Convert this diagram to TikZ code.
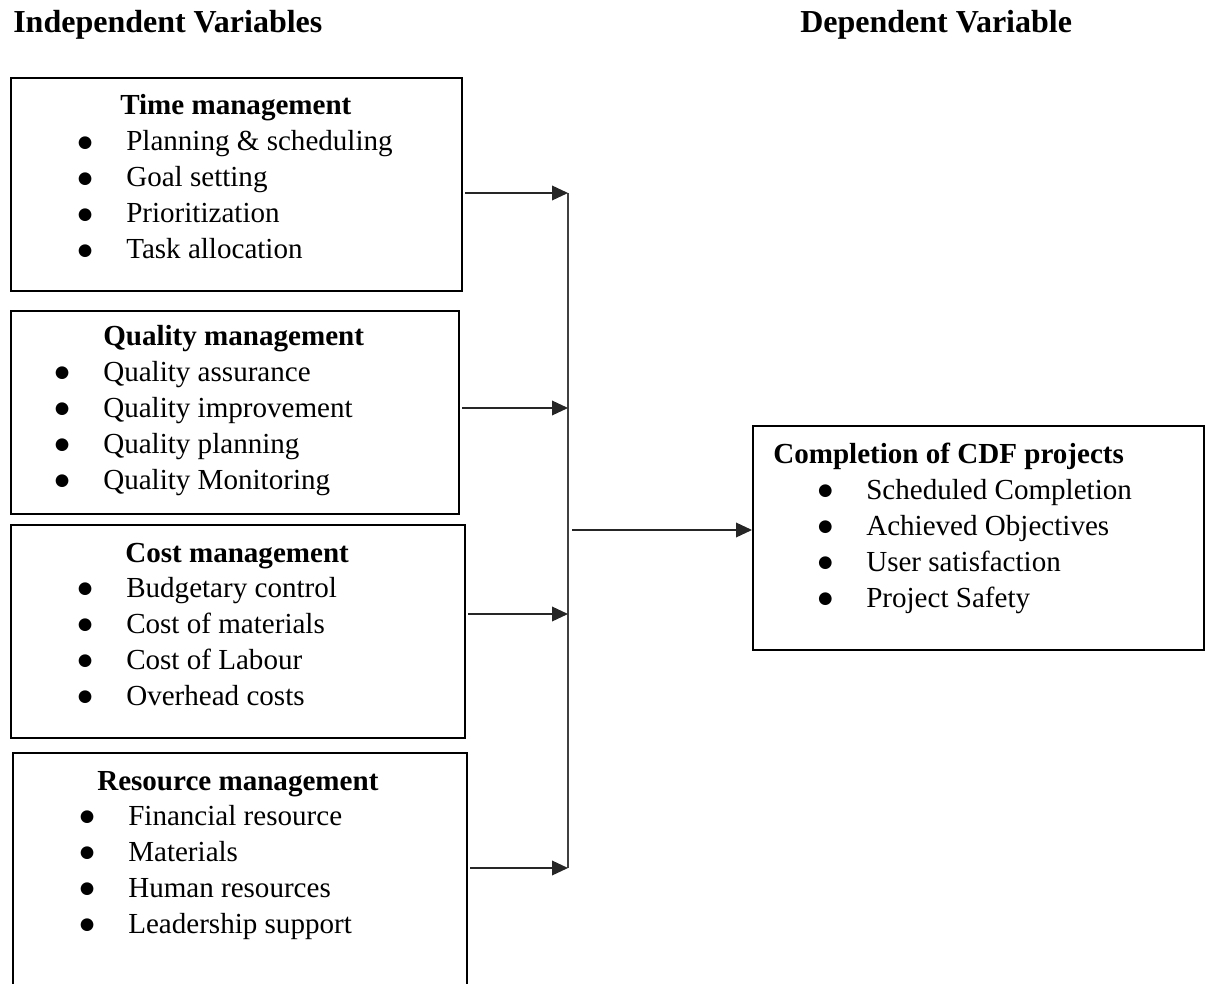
\documentclass[tikz,border=0pt]{standalone}
\usepackage{fontspec}
\setmainfont{Liberation Serif}
\newfontfamily\dotfont{DejaVu Sans}
\usepackage{tikz}
\usetikzlibrary{arrows.meta}
\newcommand{\bul}{\makebox[34.5pt][l]{\makebox[7.5pt][c]{\raisebox{2.5pt}{\dotfont\fontsize{12.5}{12.5}\selectfont ●}}}}
\tikzset{
	>={Triangle[length=12pt, width=11pt]},
	box/.style={draw=black, line width=1.5pt, inner sep=0pt, anchor=north west},
	heading/.style={anchor=base west, inner sep=0pt, font=\fontsize{24}{28}\selectfont\bfseries},
	boxtitle/.style={anchor=base west, inner sep=0pt, font=\fontsize{21.8}{27}\selectfont\bfseries},
	items/.style={anchor=base west, inner sep=0pt, font=\fontsize{21.8}{27}\selectfont},
	feed/.style={black!85, line width=1.1pt, ->, shorten <=1.5pt},
	spine/.style={black!75, line width=1.4pt},
}
\begin{document}
\begin{tikzpicture}[x=0.75pt, y=-0.75pt]
	\useasboundingbox (0,0) rectangle (1210,984);
	
	% Column headings
	\node[heading] (indep) at (13,33) {Independent Variables};
	\node[heading] (dep) at (800,33) {Dependent Variable};
	
	% Boxes of the independent variables
	\node[box, minimum width=338.25pt, minimum height=159.75pt] (tbox) at (10,77) {};
	\node[box, minimum width=336pt, minimum height=152.25pt] (qbox) at (10,310) {};
	\node[box, minimum width=340.5pt, minimum height=159.75pt] (costbox) at (10,524) {};
	\node[box, minimum width=340.5pt, minimum height=182.25pt] (rbox) at (12,752) {};
	
	% Box of the dependent variable
	\node[box, minimum width=338.25pt, minimum height=168pt] (outbox) at (752,425) {};
	
	% Time management
	\node[boxtitle] (ttitle) at (120,115) {Time management};
	\node[items] (tlist) at (80,151) {\begin{tabular}[t]{@{}l@{}}
		\bul Planning \& scheduling\\
		\bul Goal setting\\
		\bul Prioritization\\
		\bul Task allocation
	\end{tabular}};
	
	% Quality management
	\node[boxtitle] (qtitle) at (103,345) {Quality management};
	\node[items] (qlist) at (57,381) {\begin{tabular}[t]{@{}l@{}}
		\bul Quality assurance\\
		\bul Quality improvement\\
		\bul Quality planning\\
		\bul Quality Monitoring
	\end{tabular}};
	
	% Cost management
	\node[boxtitle] (costtitle) at (125,562) {Cost management};
	\node[items] (costlist) at (80,597) {\begin{tabular}[t]{@{}l@{}}
		\bul Budgetary control\\
		\bul Cost of materials\\
		\bul Cost of Labour\\
		\bul Overhead costs
	\end{tabular}};
	
	% Resource management
	\node[boxtitle] (rtitle) at (97,790) {Resource management};
	\node[items] (rlist) at (82,825) {\begin{tabular}[t]{@{}l@{}}
		\bul Financial resource\\
		\bul Materials\\
		\bul Human resources\\
		\bul Leadership support
	\end{tabular}};
	
	% Completion of CDF projects
	\node[boxtitle] (outtitle) at (773,463) {Completion of CDF projects};
	\node[items] (outlist) at (820,499) {\begin{tabular}[t]{@{}l@{}}
		\bul Scheduled Completion\\
		\bul Achieved Objectives\\
		\bul User satisfaction\\
		\bul Project Safety
	\end{tabular}};
	
	% Points where the arrows meet the vertical line
	\coordinate (tin) at (568,193);
	\coordinate (qin) at (568,408);
	\coordinate (costin) at (568,614);
	\coordinate (rin) at (568,868);
	\coordinate (hub) at (568,530);
	
	% Vertical line
	\draw[spine] (tin) -- (rin);
	
	% Arrows
	\draw[feed] (tbox.east |- tin) -- (tin);
	\draw[feed] (qbox.east |- qin) -- (qin);
	\draw[feed] (costbox.east |- costin) -- (costin);
	\draw[feed] (rbox.east |- rin) -- (rin);
	\draw[feed, shorten <=3pt] (hub) -- (outbox.west |- hub);
	
\end{tikzpicture}
\end{document}
